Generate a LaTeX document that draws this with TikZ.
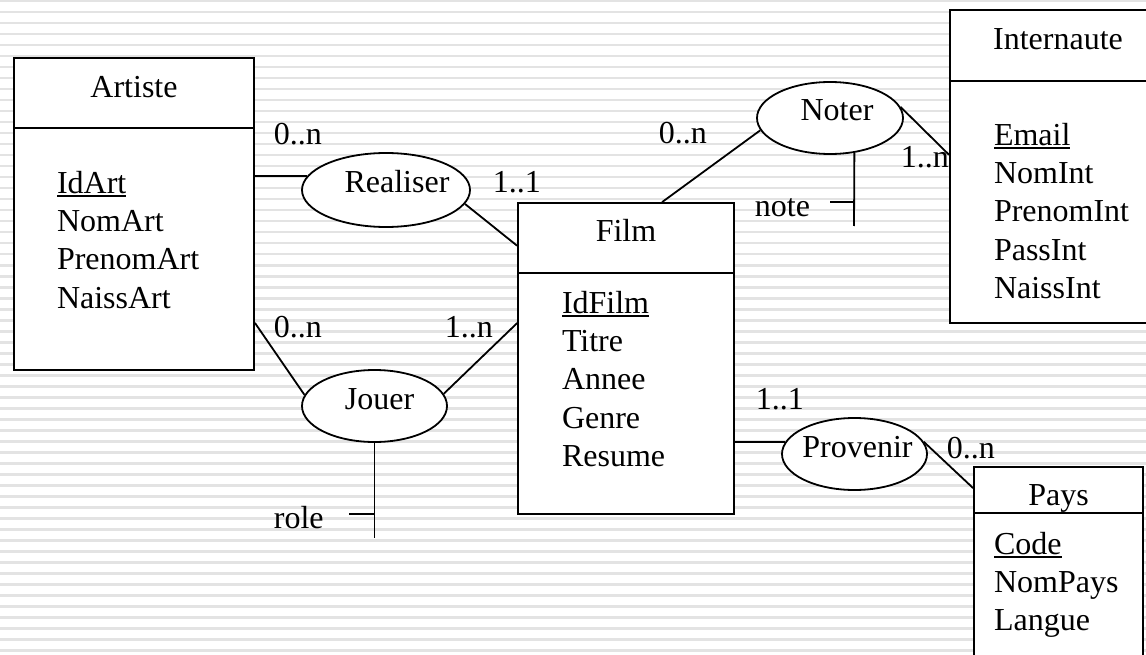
\documentclass[tikz,border=0pt]{standalone}
\usepackage{fontspec}
\setmainfont{Liberation Serif}
\usetikzlibrary{shapes.geometric}
\newcommand\keyattr[1]{\setbox0\hbox{#1}\rlap{\rule[-3.5pt]{\wd0}{1.8pt}}#1}

\begin{document}
\begin{tikzpicture}[x=1pt, y=-1pt, line width=1.8pt,
		font=\fontsize{32}{38.3}\selectfont,
		stripe/.style={fill=black!11, draw=none},
		entity node/.style={draw, fill=white, inner sep=0pt},
		relation node/.style={ellipse, draw, fill=white, inner xsep=-20pt, inner ysep=0pt,
			text height=22pt, text depth=16pt},
		title node/.style={anchor=base, inner sep=0pt},
		attr node/.style={anchor=north west, align=left, inner sep=0pt},
		card node/.style={anchor=base west, inner sep=0pt}]
		
		\useasboundingbox (0,0) rectangle (1146,655);
		\foreach \k in {0,...,59}
		\fill[stripe] (0,11*\k) rectangle (1146,11*\k+2.5);
		
		\node[entity node, minimum width=240pt, minimum height=312pt] (artiste) at (134,214) {};
		\node[entity node, minimum width=216pt, minimum height=311pt] (film) at (626,358.5) {};
		\node[entity node, minimum width=220pt, minimum height=313pt] (internaute) at (1060,166.5) {};
		\node[entity node, minimum width=169pt, minimum height=213pt] (pays) at (1058.5,573.5) {};
		
		\draw ([yshift=-71pt]artiste.north west) -- ([yshift=-71pt]artiste.north east);
		\draw ([yshift=-71pt]film.north west) -- ([yshift=-71pt]film.north east);
		\draw ([yshift=-72pt]internaute.north west) -- ([yshift=-72pt]internaute.north east);
		\draw ([yshift=-47pt]pays.north west) -- ([yshift=-47pt]pays.north east);
		
		\node[title node] (artisteT) at ([yshift=-40pt]artiste.north) {Artiste};
		\node[title node] (filmT) at ([yshift=-39pt]film.north) {Film};
		\node[title node] (internauteT) at ([xshift=-2pt, yshift=-40pt]internaute.north) {Internaute};
		\node[title node] (paysT) at ([yshift=-39pt]pays.north) {Pays};
		
		\node[attr node] (artisteA) at ([xshift=43pt, yshift=-113pt]artiste.north west)
		{\keyattr{IdArt}\\NomArt\\PrenomArt\\NaissArt};
		\node[attr node] (filmA) at ([xshift=44pt, yshift=-88pt]film.north west)
		{\keyattr{IdFilm}\\Titre\\Annee\\Genre\\Resume};
		\node[attr node] (internauteA) at ([xshift=44pt, yshift=-113pt]internaute.north west)
		{\keyattr{Email}\\NomInt\\PrenomInt\\PassInt\\NaissInt};
		\node[attr node] (paysA) at ([xshift=20pt, yshift=-65pt]pays.north west)
		{\keyattr{Code}\\NomPays\\Langue};
		
		\node[relation node, minimum width=168pt, minimum height=74pt] (realiser) at (386,190) {\hspace*{22pt}Realiser};
		\node[relation node, minimum width=146pt, minimum height=72pt] (noter) at (830,118) {\hspace*{14pt}Noter};
		\node[relation node, minimum width=145pt, minimum height=72pt] (jouer) at (374.5,406) {\hspace*{10pt}Jouer};
		\node[relation node, minimum width=145pt, minimum height=72pt] (provenir) at (854.5,454) {\hspace*{6pt}Provenir};
		
		\coordinate (noteEnd) at (854,226);
		\coordinate (noteTick) at (830,202);
		\coordinate (roleEnd) at (374.5,538);
		\coordinate (roleTick) at (349,514);
		
		\path
		(artiste.east |- realiser.170) edge (realiser.170)
		(realiser.-10) edge (film.134)
		(noter.190) edge (film.77)
		(noter.9) edge (internaute.174)
		(noter.-55) edge (noteEnd)
		(noteTick) edge (noteTick -| noteEnd)
		(artiste.-42) edge (jouer.171)
		(jouer.10) edge (film.162)
		(jouer.south) edge (roleEnd)
		(roleTick) edge (roleTick -| roleEnd)
		(film.east |- provenir.170) edge (provenir.170)
		(provenir.10) edge (pays.135);
		
		\node[card node] (artRea) at (273,145) {0..n};
		\node[card node] (filRea) at (492,193) {1..1};
		\node[card node] (filNot) at (658,144) {0..n};
		\node[card node] (intNot) at (900,168) {1..n};
		\node[card node] (noteL) at (754,217) {note};
		\node[card node] (artJou) at (273,337) {0..n};
		\node[card node] (filJou) at (444,337) {1..n};
		\node[card node] (roleL) at (273,528) {role};
		\node[card node] (filPro) at (755,409) {1..1};
		\node[card node] (payPro) at (946,458) {0..n};
\end{tikzpicture}
\end{document}
